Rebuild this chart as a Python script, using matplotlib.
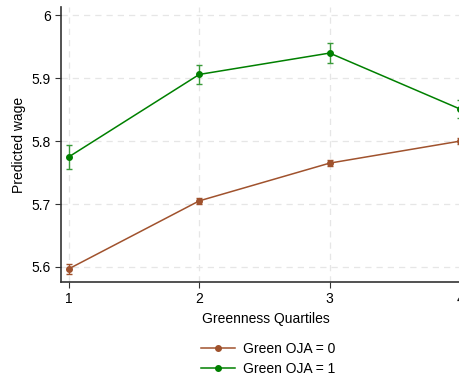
import matplotlib
matplotlib.use("Agg")
import matplotlib.pyplot as plt
from matplotlib.lines import Line2D

plt.rcParams["font.family"] = ["Liberation Sans", "DejaVu Sans"]

quartiles = [1, 2, 3, 4]
wage_oja0 = [5.597, 5.705, 5.765, 5.800]
err_oja0 = [0.008, 0.005, 0.005, 0.005]
wage_oja1 = [5.775, 5.906, 5.940, 5.851]
err_oja1 = [0.019, 0.015, 0.016, 0.014]
labels = ["Green OJA = 0", "Green OJA = 1"]
yticks = [5.6, 5.7, 5.8, 5.9, 6.0]
yticklabels = ["5.6", "5.7", "5.8", "5.9", "6"]

c0 = "#A0522D"
c1 = "#008000"

fig = plt.figure(figsize=(4.59, 3.76), dpi=100)
ax = fig.add_axes([0.133, 0.25, 0.892, 0.731])

ax.errorbar(quartiles, wage_oja0, yerr=err_oja0, color=c0, marker="o", ms=4,
            lw=1.1, ecolor=c0, elinewidth=1.0, capsize=2, capthick=1.0, zorder=3)
ax.errorbar(quartiles, wage_oja1, yerr=err_oja1, color=c1, marker="o", ms=4,
            lw=1.1, ecolor="#3a9a3a", elinewidth=1.0, capsize=2, capthick=1.0, zorder=3)

ax.set_xlim(0.94, 4.08)
ax.set_ylim(5.576, 6.013)
ax.set_xticks(quartiles)
ax.set_xticklabels([str(q) for q in quartiles])
ax.set_yticks(yticks)
ax.set_yticklabels(yticklabels)
ax.grid(True, color="#e6e6e6", ls=(0, (5, 4)), lw=0.9)
ax.set_axisbelow(True)
for s in ["top", "right"]:
    ax.spines[s].set_visible(False)
for s in ["left", "bottom"]:
    ax.spines[s].set_color("#333333")
    ax.spines[s].set_linewidth(1.2)
ax.tick_params(axis="both", labelsize=10, color="#333333", length=4)
ax.set_ylabel("Predicted wage", fontsize=10)
ax.set_xlabel("Greenness Quartiles", fontsize=10, labelpad=4)

handles = [Line2D([], [], color=c0, marker="o", ms=4, lw=1.1),
           Line2D([], [], color=c1, marker="o", ms=4, lw=1.1)]
fig.legend(handles, labels, loc="center", bbox_to_anchor=(0.585, 0.045),
           frameon=False, fontsize=10, handlelength=2.4, handletextpad=0.6,
           labelspacing=0.45, borderpad=0.2)

fig.savefig("out.png", dpi=100)
